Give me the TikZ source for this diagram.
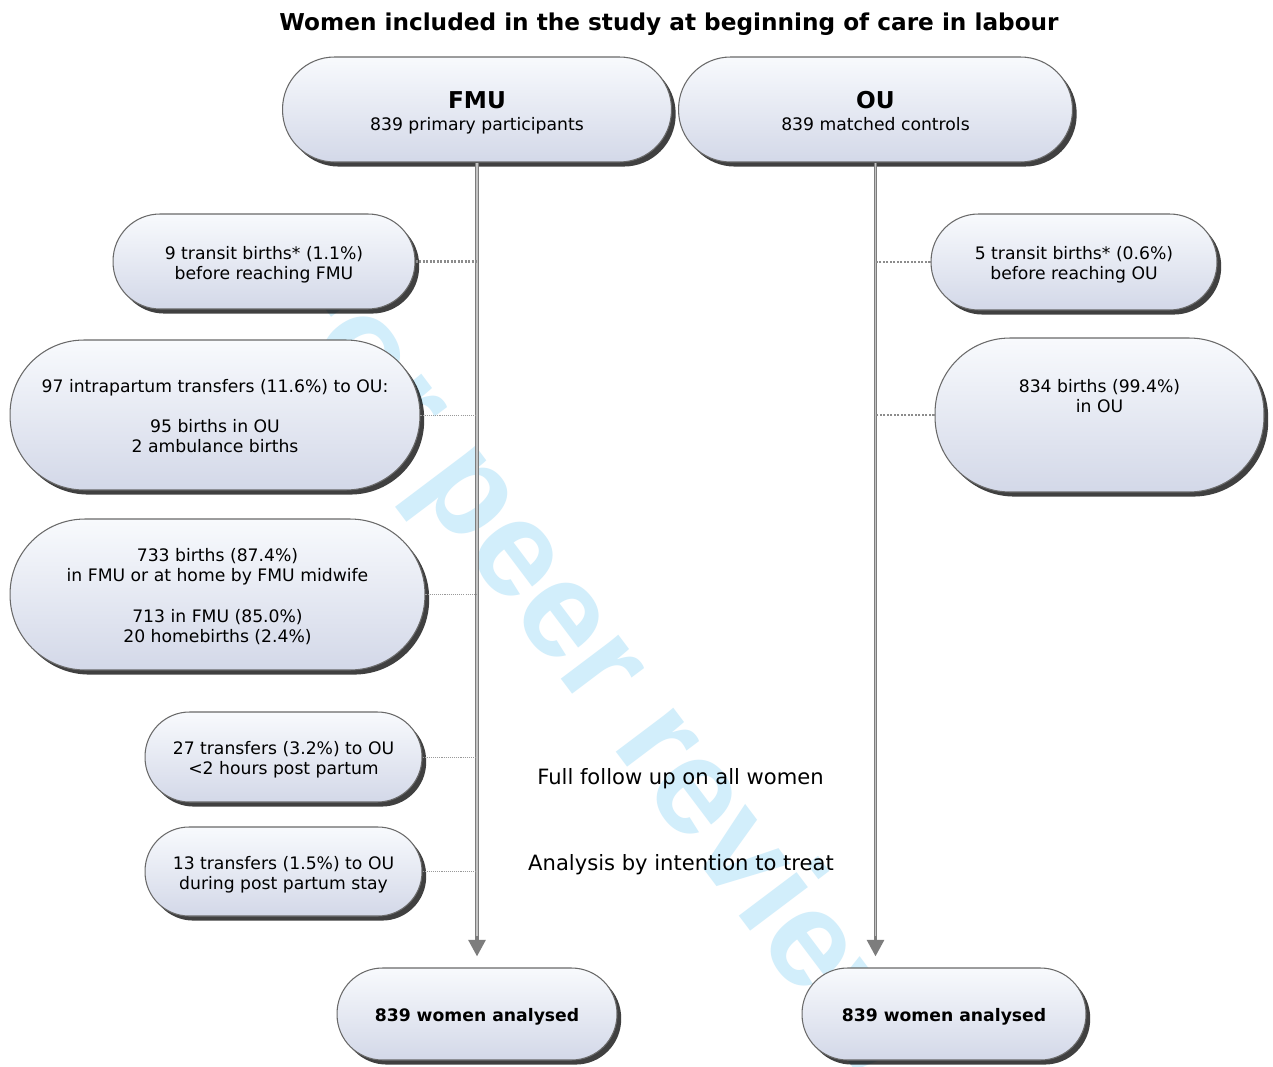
\documentclass[tikz,border=0pt]{standalone}
\usepackage{fontspec}
\setmainfont{DejaVu Sans}
\newfontfamily\wmfont{Liberation Sans}
\usetikzlibrary{shadows,arrows.meta,calc}
\definecolor{boxtop}{RGB}{248,250,253}
\definecolor{boxbot}{RGB}{211,216,232}
\definecolor{boxline}{RGB}{105,105,105}
\definecolor{wmblue}{RGB}{210,238,251}
\definecolor{lineg}{RGB}{125,125,125}
\definecolor{linec}{RGB}{195,195,195}
\newcommand\dgbody{\fontsize{9.8}{11.4}\selectfont}
\newcommand\dgbig{\fontsize{13.2}{15}\selectfont\bfseries}
\newcommand\dgmid{\fontsize{12}{14}\selectfont}
\newcommand\dghd{\rule{0pt}{14.1pt}}
\newcommand\dgdp{\rule[-2.6pt]{0pt}{2.6pt}}
\newcommand\dgtop{\rule[-3.42pt]{0pt}{15.4pt}}
\begin{document}
\begin{tikzpicture}[x=0.02cm,y=-0.02cm,
  pill/.style n args={3}{draw=boxline, line width=0.6pt, top color=boxtop, bottom color=boxbot,
    drop shadow={shadow xshift=2.4pt, shadow yshift=-2.6pt, fill=black, opacity=0.75},
    rounded corners=#3cm, minimum width=#1cm, minimum height=#2cm, inner sep=0pt,
    align=center, font=\dgbody},
  vline/.style={draw=lineg, line width=2.2pt, -{Triangle[width=9.5pt,length=9.5pt]}},
  vcore/.style={draw=linec, line width=0.7pt},
  dotthick/.style={draw=gray!90, line width=1.4pt, dash pattern=on 1.2pt off 0.8pt},
  dotthin/.style={draw=gray!80, line width=0.45pt, dash pattern=on 0.6pt off 0.6pt}]
\useasboundingbox[fill=white] (0,0) rectangle (1273,1067);
% watermark
\begin{scope}
\clip (0,0) rectangle (1273,1067);
\node[font=\wmfont\bfseries\fontsize{78}{78}\selectfont, text=wmblue, rotate=-53, anchor=base west, inner sep=0pt] (wm) at (257,276) {For peer review only};
\end{scope}
% title
\node[font=\dgbig, anchor=base] (title) at (669,31) {Women included in the study at beginning of care in labour};
% main boxes
\node[pill={7.78}{2.1}{1.04}] (fmu) at (477,109.5) {{\dgbig\dghd FMU}\\[1.5pt]839 primary participants\dgdp};
\node[pill={7.88}{2.1}{1.04}] (ou) at (875.5,109.5) {{\dgbig\dghd OU}\\[1.5pt]839 matched controls\dgdp};
% left side boxes
\node[pill={6.04}{1.9}{0.94}] (t1) at (264,261.5) {\dgtop 9 transit births* (1.1\%)\\\strut before reaching FMU};
\node[pill={8.2}{3.0}{1.48}] (ip) at (215,415) {\dgtop 97 intrapartum transfers (11.6\%) to OU:\\\strut\\\strut 95 births in OU\\\strut 2 ambulance births};
\node[pill={8.3}{3.02}{1.5}] (b733) at (217.5,594.5) {\dgtop 733 births (87.4\%)\\\strut in FMU or at home by FMU midwife\\\strut\\\strut 713 in FMU (85.0\%)\\\strut 20 homebirths (2.4\%)};
\node[pill={5.54}{1.8}{0.89}] (tr27) at (283.5,757) {\dgtop 27 transfers (3.2\%) to OU\\\strut <2 hours post partum};
\node[pill={5.54}{1.78}{0.88}] (tr13) at (283.5,871.5) {\dgtop 13 transfers (1.5\%) to OU\\\strut during post partum stay};
% right side boxes
\node[pill={5.72}{1.92}{0.95}] (t2) at (1074,262) {\dgtop 5 transit births* (0.6\%)\\\strut before reaching OU};
\node[pill={6.58}{3.08}{1.5}] (b834) at (1099.5,415) {\dgtop 834 births (99.4\%)\\\strut in OU\\\strut\\\strut};
% result boxes
\node[pill={5.6}{1.84}{0.91}, font=\dgbody\bfseries] (res1) at (477,1014) {\dgtop 839 women analysed};
\node[pill={5.68}{1.84}{0.91}, font=\dgbody\bfseries] (res2) at (944,1014) {\dgtop 839 women analysed};
% middle texts
\node[font=\dgmid, anchor=base] (full) at (680.5,784) {Full follow up on all women};
\node[font=\dgmid, anchor=base] (itt) at (681,870) {Analysis by intention to treat};
% arrows
\coordinate (fmuend) at ($(fmu.south |- res1.north)+(0,-11)$);
\coordinate (ouend) at ($(ou.south |- res2.north)+(0,-11)$);
\draw[vline] (fmu.south) -- (fmuend);
\draw[vcore] (fmu.south) -- ($(fmuend)+(0,-20)$);
\draw[vline] (ou.south) -- (ouend);
\draw[vcore] (ou.south) -- ($(ouend)+(0,-20)$);
% dotted links
\draw[dotthick] (t1.east) -- (t1.east -| fmu.south);
\draw[dotthin] (ip.east) -- (ip.east -| fmu.south);
\draw[dotthin] (b733.east) -- (b733.east -| fmu.south);
\draw[dotthin] (tr27.east) -- (tr27.east -| fmu.south);
\draw[dotthin] (tr13.east) -- (tr13.east -| fmu.south);
\draw[dotthick] (t2.west) -- (t2.west -| ou.south);
\draw[dotthick] (b834.west) -- (b834.west -| ou.south);
\end{tikzpicture}
\end{document}
